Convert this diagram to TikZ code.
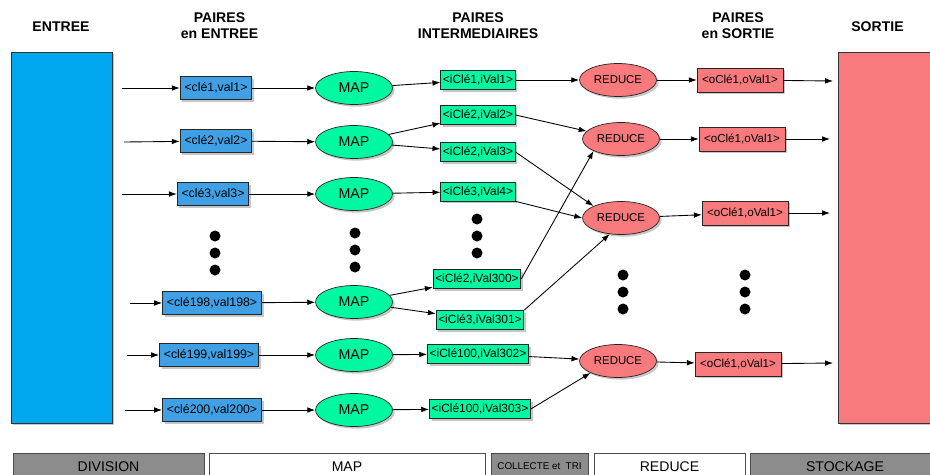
\documentclass[tikz,border=0pt]{standalone}
\usepackage{fontspec}
\setmainfont{Liberation Sans}
\usepackage{tikz}
\usetikzlibrary{positioning, shapes.geometric, arrows.meta, shadows}
\definecolor{entree}{HTML}{00A6EE}
\definecolor{kvblue}{HTML}{3FA0E6}
\definecolor{kvgreen}{HTML}{00F9A0}
\definecolor{kvred}{HTML}{F87A7D}
\definecolor{phasegrey}{HTML}{8C8C8C}

\begin{document}
\begin{tikzpicture}[x=0.02cm, y=-0.02cm,
  shadowed/.style={drop shadow={shadow xshift=1.2pt, shadow yshift=-1.2pt, opacity=.45}},
  big/.style={rectangle, draw=black!80, minimum width=2.02cm, minimum height=7.42cm, shadowed},
  kv/.style={rectangle, draw=black!85, inner ysep=0pt, shadowed},
  inpair/.style={kv, fill=kvblue, inner xsep=2.5pt, minimum height=0.46cm, font=\fontsize{7}{8}\selectfont},
  midpair/.style={kv, fill=kvgreen, inner xsep=1.2pt, minimum height=0.38cm, font=\fontsize{6.8}{8}\selectfont},
  outpair/.style={kv, fill=kvred, inner xsep=2.8pt, minimum height=0.48cm, font=\fontsize{6.6}{8}\selectfont},
  mapper/.style={ellipse, draw=black!85, fill=kvgreen, inner sep=0pt, minimum width=1.54cm,
                 minimum height=0.66cm, font=\fontsize{8.1}{9}\selectfont, shadowed},
  reducer/.style={mapper, fill=kvred, font=\fontsize{6.5}{8}\selectfont},
  head/.style={align=center, font=\bfseries\fontsize{8}{9}\selectfont},
  phase/.style={rectangle, draw=black!70, inner sep=0pt, minimum height=0.54cm, font=\fontsize{8}{9}\selectfont},
  arr/.style={-{Latex[length=4.5pt, width=3.2pt]}, line width=0.5pt}
]
  \useasboundingbox (0,0) rectangle (930,474);
  \clip (0,0) rectangle (930,474);

  \node[head] (hentree) at (61,26.5) {ENTREE};
  \node[head] (hpin) at (219.5,26) {PAIRES\\en ENTREE};
  \node[head] (hpmid) at (478,26) {PAIRES\\INTERMEDIAIRES};
  \node[head] (hpout) at (738,26) {PAIRES\\en SORTIE};
  \node[head] (hsortie) at (877.5,27) {SORTIE};

  \node[big, fill=entree] (entree) at (61.5,237.5) {};
  \node[big, fill=kvred, minimum width=2.04cm] (sortie) at (889,237.5) {};

  % paires en entree
  \node[inpair] (p1) at (216,88) {<clé1,val1>};
  \node[inpair] (p2) at (216,141) {<clé2,val2>};
  \node[inpair] (p3) at (213,194) {<clé3,val3>};
  \node[inpair] (p198) at (212,303) {<clé198,val198>};
  \node[inpair] (p199) at (209,355) {<clé199,val199>};
  \node[inpair] (p200) at (212,410) {<clé200,val200>};

  % map
  \node[mapper] (m1) at (354,88) {MAP};
  \node[mapper] (m2) at (354,142) {MAP};
  \node[mapper] (m3) at (354,194) {MAP};
  \node[mapper] (m198) at (354,302) {MAP};
  \node[mapper] (m199) at (354,355) {MAP};
  \node[mapper] (m200) at (354,410) {MAP};

  % paires intermediaires
  \node[midpair] (iv1) at (478,80) {<iClé1,iVal1>};
  \node[midpair] (iv2) at (478,115) {<iClé2,iVal2>};
  \node[midpair] (iv3) at (478,152) {<iClé2,iVal3>};
  \node[midpair] (iv4) at (478,191.5) {<iClé3,iVal4>};
  \node[midpair] (iv300) at (477,279) {<iClé2,iVal300>};
  \node[midpair] (iv301) at (480,320) {<iClé3,iVal301>};
  \node[midpair] (iv302) at (478,354) {<iClé100,iVal302>};
  \node[midpair] (iv303) at (480,409) {<iClé100,iVal303>};

  % reduce
  \node[reducer] (r1) at (618,80) {REDUCE};
  \node[reducer] (r2) at (621,139) {REDUCE};
  \node[reducer] (r3) at (621,218) {REDUCE};
  \node[reducer] (r4) at (618,361) {REDUCE};

  % paires en sortie
  \node[outpair] (o1) at (740,80) {<oClé1,oVal1>};
  \node[outpair] (o2) at (742,139) {<oClé1,oVal1>};
  \node[outpair] (o3) at (745,213) {<oClé1,oVal1>};
  \node[outpair] (o4) at (738,364) {<oClé1,oVal1>};

  \coordinate (s1) at (122,88);  \coordinate (s2) at (124,142);
  \coordinate (s3) at (122,194); \coordinate (s198) at (130,303);
  \coordinate (s199) at (127,355); \coordinate (s200) at (125,410);
  \coordinate (e1) at (833,81);  \coordinate (e2) at (830,139);
  \coordinate (e3) at (830,213); \coordinate (e4) at (833,363);

  \draw[arr] (s1)--(p1); \draw[arr] (s2)--(p2); \draw[arr] (s3)--(p3);
  \draw[arr] (s198)--(p198); \draw[arr] (s199)--(p199); \draw[arr] (s200)--(p200);
  \draw[arr] (p1)--(m1); \draw[arr] (p2)--(m2); \draw[arr] (p3)--(m3);
  \draw[arr] (p198)--(m198); \draw[arr] (p199)--(m199); \draw[arr] (p200)--(m200);
  \draw[arr] (m1)--(iv1); \draw[arr] (m2)--(iv2); \draw[arr] (m2)--(iv3);
  \draw[arr] (m3)--(iv4); \draw[arr] (m198)--(iv300); \draw[arr] (m198)--(iv301);
  \draw[arr] (m199)--(iv302); \draw[arr] (m200)--(iv303);
  \draw[arr] (iv1)--(r1); \draw[arr] (iv2.east)--(r2); \draw[arr] (iv3.east)--(r3.north west);
  \draw[arr] (iv4.south east)--(r3.west); \draw[arr] (iv300.east)--(r2.south west);
  \draw[arr] (iv301.north east)--(r3.235); \draw[arr] (iv302)--(r4);
  \draw[arr] (iv303.east)--(r4.south west);
  \draw[arr] (r1)--(o1); \draw[arr] (r2)--(o2); \draw[arr] (r3)--(o3); \draw[arr] (r4)--(o4);
  \draw[arr] (o1)--(e1); \draw[arr] (o2)--(e2); \draw[arr] (o3)--(e3); \draw[arr] (o4)--(e4);

  % points de suspension
  \foreach \x/\y in {215/236, 355/233, 477/219, 623/275, 745/275} {
    \fill (\x,\y) circle (5.5);
    \fill (\x,\y+17) circle (5.5);
    \fill (\x,\y+34) circle (5.5);
  }

  \node[phase, fill=phasegrey, minimum width=3.82cm] (division) at (108.5,466.5) {DIVISION};
  \node[phase, fill=white, minimum width=5.52cm] (mapphase) at (347,466.5) {MAP};
  \node[phase, fill=phasegrey, minimum width=1.94cm, font=\fontsize{5.6}{6}\selectfont] (tri) at (539.5,466.5) {COLLECTE et\ \ TRI};
  \node[phase, fill=white, minimum width=3.02cm] (reducephase) at (669.5,466.5) {REDUCE};
  \node[phase, fill=phasegrey, minimum width=3.8cm] (stockage) at (845,466.5) {STOCKAGE};
\end{tikzpicture}
\end{document}
